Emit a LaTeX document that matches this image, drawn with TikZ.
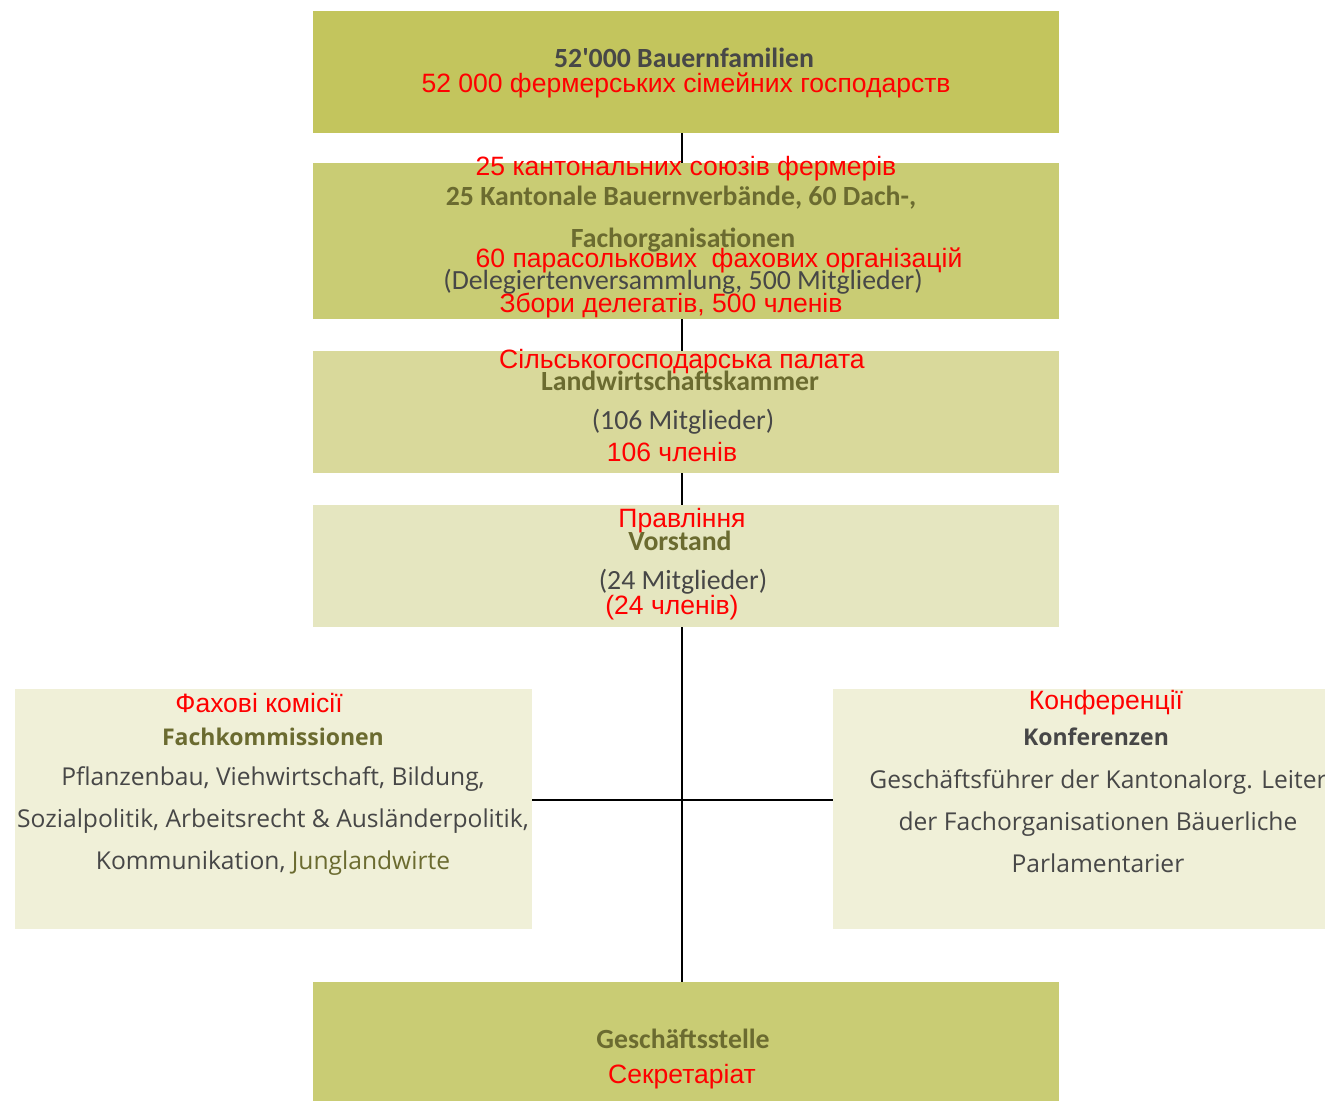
\documentclass[tikz,border=0pt]{standalone}
\usepackage{fontspec}
\setmainfont{Carlito}
\newfontfamily\redfont{Liberation Sans}
\newfontfamily\opensans{Open Sans}
\definecolor{olA}{HTML}{C3C55D}
\definecolor{olB}{HTML}{C9CC74}
\definecolor{olC}{HTML}{D9D99B}
\definecolor{olD}{HTML}{E5E6C0}
\definecolor{olE}{HTML}{F0F0D8}
\definecolor{headol}{HTML}{6B6B30}
\definecolor{txtgray}{HTML}{474747}
\tikzset{
  box/.style={rectangle, inner sep=0pt, draw=none},
  red/.style={text=red, font=\redfont\fontsize{15.1}{17}\selectfont},
  head/.style={text=headol, font=\bfseries\fontsize{15.8}{17}\selectfont},
  sub/.style={text=txtgray, font=\fontsize{15.8}{17}\selectfont},
  side/.style={text=txtgray, font=\opensans\fontsize{14}{24}\selectfont, align=center},
  sidehead/.style={font=\opensans\bfseries\fontsize{13.1}{16}\selectfont},
  link/.style={draw=black, line width=0.9pt}
}
\begin{document}
\begin{tikzpicture}[x=0.02cm, y=-0.02cm]
  \useasboundingbox (0,0) rectangle (1325,1100);

  % boxes
  \node[box, fill=olA, minimum width=14.92cm, minimum height=2.44cm] (fam) at (686,72) {};
  \node[box, fill=olB, minimum width=14.92cm, minimum height=3.12cm] (verb) at (686,241) {};
  \node[box, fill=olC, minimum width=14.92cm, minimum height=2.44cm] (kammer) at (686,412) {};
  \node[box, fill=olD, minimum width=14.92cm, minimum height=2.44cm] (vorst) at (686,566) {};
  \node[box, fill=olE, minimum width=10.34cm, minimum height=4.8cm] (fach) at (273.5,809) {};
  \node[box, fill=olE, minimum width=9.84cm, minimum height=4.8cm] (konf) at (1079,809) {};
  \node[box, fill=olB, minimum width=14.92cm, minimum height=2.6cm] (gst) at (686,1047) {};

  % connectors
  \draw[link] ([xshift=-0.08cm]fam.south) -- ([xshift=-0.08cm]verb.north);
  \draw[link] ([xshift=-0.08cm]verb.south) -- ([xshift=-0.08cm]kammer.north);
  \draw[link] ([xshift=-0.08cm]kammer.south) -- ([xshift=-0.08cm]vorst.north);
  \draw[link] ([xshift=-0.08cm]vorst.south) -- ([xshift=-0.08cm]gst.north);
  \draw[link] ([yshift=0.18cm]fach.east) -- ([yshift=0.18cm]konf.west);

  % texts
  \node[head, text=txtgray] (t1) at (684,58) {52\textquotesingle 000 Bauernfamilien};
  \node[red] (r1) at (686,85) {52 000 фермерських сімейних господарств};

  \node[red] (r2) at (686,169) {25 кантональних союзів фермерів};
  \node[head] (t2) at (681,198) {25 Kantonale Bauernverbände, 60 Dach-,};
  \node[head] (t3) at (683,240) {Fachorganisationen};
  \node[red] (r3) at (719,260) {60 парасолькових\ \ фахових організацій};
  \node[sub] (t4) at (683,282) {(Delegiertenversammlung, 500 Mitglieder)};
  \node[red] (r4) at (671,306) {Збори делегатів, 500 членів};

  \node[red] (r5) at (682,362) {Сільськогосподарська палата};
  \node[head] (t5) at (680,381) {Landwirtschaftskammer};
  \node[sub] (t6) at (683,422) {(106 Mitglieder)};
  \node[red] (r6) at (672,452) {106 членів};

  \node[red] (r7) at (682,521) {Правління};
  \node[head] (t7) at (680,541) {Vorstand};
  \node[sub] (t8) at (683,582) {(24 Mitglieder)};
  \node[red] (r8) at (672,608) {(24 членів)};

  \node[red] (r9) at (259,703) {Фахові комісії};
  \node[side, sidehead, text=headol] (t9) at (273,737) {Fachkommissionen};
  \node[side] (t10) at (273,821) {Pflanzenbau, Viehwirtschaft, Bildung,\\
    Sozialpolitik, Arbeitsrecht \& Ausländerpolitik,\\
    Kommunikation, \textcolor{headol}{Junglandwirte}};

  \node[red] (r10) at (1106,703) {Конференції};
  \node[side, sidehead] (t11) at (1096,737) {Konferenzen};
  \node[side] (t12) at (1098,821) {Geschäftsführer der Kantonalorg. Leiter\\
    der Fachorganisationen Bäuerliche\\
    Parlamentarier};

  \node[head] (t13) at (683,1039) {Geschäftsstelle};
  \node[red] (r11) at (682,1077) {Секретаріат};
\end{tikzpicture}
\end{document}
